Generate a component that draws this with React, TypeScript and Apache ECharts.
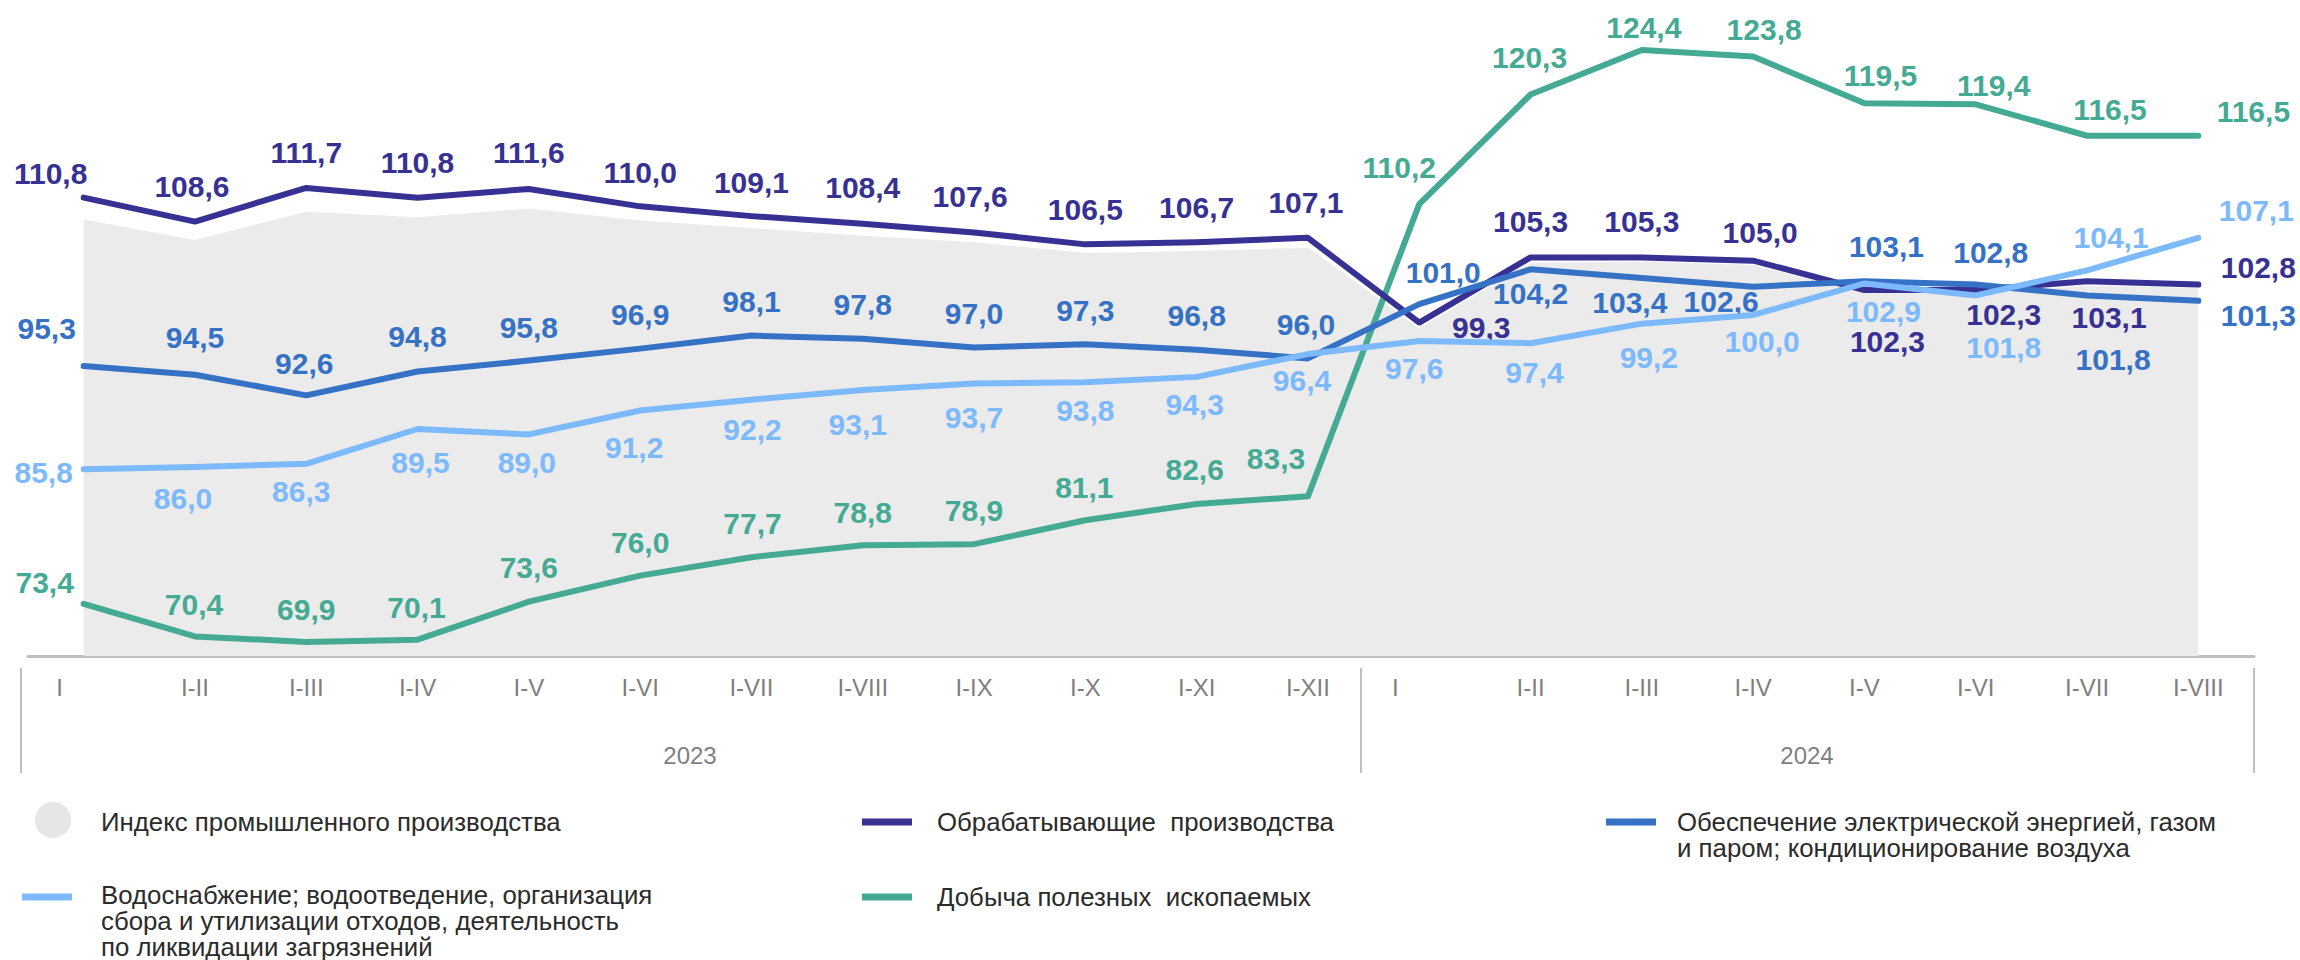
import React, { useEffect, useRef } from 'react';
import * as echarts from 'echarts';

// ---------- data ----------
const YEARS = ['2023', '2024'];
const MONTHS_2023 = ['I', 'I-II', 'I-III', 'I-IV', 'I-V', 'I-VI', 'I-VII', 'I-VIII', 'I-IX', 'I-X', 'I-XI', 'I-XII'];
const MONTHS_2024 = ['I', 'I-II', 'I-III', 'I-IV', 'I-V', 'I-VI', 'I-VII', 'I-VIII'];

const INDEX_TOTAL = [108.8, 106.9, 109.5, 109.0, 109.8, 108.7, 108.0, 107.3, 106.7, 105.7, 105.9, 106.2,
  98.8, 104.8, 104.9, 104.6, 102.0, 102.0, 102.7, 102.5];
const MANUFACTURING = [110.8, 108.6, 111.7, 110.8, 111.6, 110.0, 109.1, 108.4, 107.6, 106.5, 106.7, 107.1,
  99.3, 105.3, 105.3, 105.0, 102.3, 102.3, 103.1, 102.8];
const ENERGY = [95.3, 94.5, 92.6, 94.8, 95.8, 96.9, 98.1, 97.8, 97.0, 97.3, 96.8, 96.0,
  101.0, 104.2, 103.4, 102.6, 103.1, 102.8, 101.8, 101.3];
const WATER = [85.8, 86.0, 86.3, 89.5, 89.0, 91.2, 92.2, 93.1, 93.7, 93.8, 94.3, 96.4,
  97.6, 97.4, 99.2, 100.0, 102.9, 101.8, 104.1, 107.1];
const MINING = [73.4, 70.4, 69.9, 70.1, 73.6, 76.0, 77.7, 78.8, 78.9, 81.1, 82.6, 83.3,
  110.2, 120.3, 124.4, 123.8, 119.5, 119.4, 116.5, 116.5];

const NAME_INDEX = 'Индекс промышленного производства';
const NAME_MANUF = 'Обрабатывающие  производства';
const NAME_ENERGY = 'Обеспечение электрической энергией, газом\nи паром; кондиционирование воздуха';
const NAME_WATER = 'Водоснабжение; водоотведение, организация\nсбора и утилизации отходов, деятельность\nпо ликвидации загрязнений';
const NAME_MINING = 'Добыча полезных  ископаемых';

// ---------- label placement (layout only) ----------
const OFF_MANUF = [[-33, -24], [-3, -35], [0, -35], [0, -35], [0, -36], [0, -34], [0, -34], [0, -36], [-4, -36], [0, -35], [0, -35], [-2, -35],
  [62, 5], [0, -36], [0, -36], [7, -28], [23, 52], [28, 25], [22, 36], [60, -17]];
const OFF_ENERGY = [[-37, -38], [0, -37], [-2, -32], [0, -35], [0, -33], [0, -34], [0, -34], [0, -34], [0, -34], [0, -34], [0, -34], [-2, -34],
  [24, -32], [0, 24], [-12, 24], [-32, 15], [22, -35], [15, -32], [26, 64], [60, 15]];
const OFF_WATER = [[-40, 3], [-12, 31], [-5, 28], [3, 33], [-2, 28], [-6, 37], [1, 30], [-5, 35], [0, 34], [0, 28], [-2, 28], [-6, 26],
  [-5, 27], [4, 29], [7, 34], [9, 27], [19, 28], [28, 52], [24, -33], [58, -27]];
const OFF_MINING = [[-39, -21], [-1, -32], [0, -32], [-1, -32], [0, -34], [0, -33], [1, -34], [0, -33], [0, -34], [-1, -33], [-2, -34], [-32, -38],
  [-20, -37], [-1, -37], [2, -22], [11, -27], [16, -28], [18, -19], [23, -26], [55, -24]];

const C_MANUF = '#363192';
const C_ENERGY = '#3571C5';
const C_WATER = '#7DB9FD';
const C_MINING = '#45AA94';
const C_AREA = '#EBEBEB';
const FONT = "'Liberation Sans', Arial, sans-serif";
const LEGEND_FS = 25.8;

const CATEGORIES = [
  ...MONTHS_2023.map((m) => YEARS[0] + '|' + m),
  ...MONTHS_2024.map((m) => YEARS[1] + '|' + m),
];

function lineSeries(name: string, data: number[], color: string, offsets: number[][], z: number) {
  return {
    type: 'line',
    name,
    z,
    data: data.map((v, i) => ({ value: v, label: { offset: offsets[i] } })),
    symbol: 'circle',
    symbolSize: 1,
    showSymbol: true,
    lineStyle: { color, width: 6, cap: 'round', join: 'round' },
    itemStyle: { color },
    label: {
      show: true,
      position: 'inside',
      color,
      fontSize: 30,
      fontWeight: 'bold',
      fontFamily: FONT,
      formatter: (p: any) => Number(p.value).toFixed(1).replace('.', ','),
    },
    emphasis: { disabled: true },
  };
}

export default function App() {
  const ref = useRef<HTMLDivElement>(null);

  useEffect(() => {
    if (!ref.current) return;
    const chart = echarts.init(ref.current, undefined, { renderer: 'svg' });

    const legendText = (text: string, x: number, yTop: number) => ({
      type: 'text',
      x,
      y: yTop,
      style: {
        text,
        fill: '#2B2B2B',
        fontSize: LEGEND_FS,
        fontFamily: FONT,
        lineHeight: LEGEND_FS,
        align: 'left',
        verticalAlign: 'top',
        textAlign: 'left',
        textVerticalAlign: 'top',
      },
    });
    const legendLine = (color: string, x: number, yc: number) => ({
      type: 'rect',
      shape: { x, y: yc - 3.5, width: 50, height: 7 },
      style: { fill: color },
    });
    const sep = (x: number) => ({
      type: 'line',
      shape: { x1: x, y1: 668, x2: x, y2: 773 },
      style: { stroke: '#BFBFBF', lineWidth: 2 },
    });
    const yearText = (text: string, x: number) => ({
      type: 'text',
      x,
      y: 755,
      style: {
        text,
        fill: '#7F7F7F',
        fontSize: 24,
        fontFamily: FONT,
        align: 'center',
        verticalAlign: 'middle',
        textAlign: 'center',
        textVerticalAlign: 'middle',
      },
    });

    chart.setOption({
      animation: false,
      backgroundColor: '#FFFFFF',
      grid: { left: 28, right: 46, top: 0, bottom: 304, containLabel: false },
      xAxis: {
        type: 'category',
        data: CATEGORIES,
        boundaryGap: true,
        axisLine: { show: true, lineStyle: { color: '#BFBFBF', width: 3 } },
        axisTick: { show: false },
        splitLine: { show: false },
        axisLabel: {
          interval: 0,
          margin: 19,
          color: '#7F7F7F',
          fontSize: 24,
          fontFamily: FONT,
          formatter: (v: string) => {
            const m = v.split('|')[1];
            return m === 'I' ? '{f|I}' : m;
          },
          rich: {
            f: { padding: [0, 48, 0, 0], color: '#7F7F7F', fontSize: 24, fontFamily: FONT },
          },
        },
      },
      yAxis: {
        type: 'value',
        min: 68.6,
        max: 129,
        show: false,
        splitLine: { show: false },
      },
      series: [
        {
          type: 'line',
          name: NAME_INDEX,
          z: 1,
          data: INDEX_TOTAL,
          symbol: 'none',
          silent: true,
          lineStyle: { width: 0, color: C_AREA },
          itemStyle: { color: C_AREA },
          areaStyle: { color: C_AREA, opacity: 1, origin: 'start' },
        },
        lineSeries(NAME_MINING, MINING, C_MINING, OFF_MINING, 2),
        lineSeries(NAME_MANUF, MANUFACTURING, C_MANUF, OFF_MANUF, 3),
        lineSeries(NAME_ENERGY, ENERGY, C_ENERGY, OFF_ENERGY, 4),
        lineSeries(NAME_WATER, WATER, C_WATER, OFF_WATER, 5),
      ],
      graphic: [
        sep(21),
        sep(1361),
        sep(2254),
        yearText(YEARS[0], 690),
        yearText(YEARS[1], 1807),
        { type: 'circle', shape: { cx: 53, cy: 820, r: 18 }, style: { fill: '#E6E6E6' } },
        legendText(NAME_INDEX, 101, 809),
        legendLine(C_MANUF, 862, 822),
        legendText(NAME_MANUF, 937, 809),
        legendLine(C_ENERGY, 1606, 822),
        legendText(NAME_ENERGY, 1677, 809),
        legendLine(C_WATER, 22, 897),
        legendText(NAME_WATER, 101, 882),
        legendLine(C_MINING, 862, 897),
        legendText(NAME_MINING, 937, 884),
      ],
    });

    return () => chart.dispose();
  }, []);

  return (
    <div
      ref={ref}
      style={{ position: 'absolute', left: 0, top: 0, width: 2300, height: 960 }}
    />
  );
}
